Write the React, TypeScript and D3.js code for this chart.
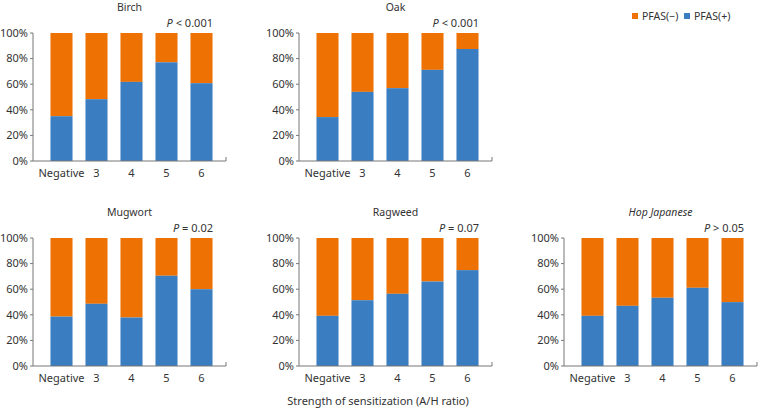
import React, { useEffect, useRef } from "react";
import * as d3 from "d3";

const categories = ["Negative", "3", "4", "5", "6"];
const allergens = ["Birch", "Oak", "Mugwort", "Ragweed", "Hop Japanese"];
const pValues = ["< 0.001", "< 0.001", "= 0.02", "= 0.07", "> 0.05"];
// share of PFAS(+) in each group, percent
const birchPos = [35, 48.3, 61.8, 77.1, 60.8];
const oakPos = [34.3, 54, 56.9, 71.2, 87.5];
const mugwortPos = [38.6, 48.6, 37.9, 70.5, 60];
const ragweedPos = [39.2, 51.4, 56.4, 66, 74.9];
const hopPos = [39.2, 47, 53.3, 61.1, 49.9];
const yTicks = [0, 20, 40, 60, 80, 100];
const legendItems = ["PFAS(\u2212)", "PFAS(+)"];

const ORANGE = "#ee7203";
const BLUE = "#3a7dc1";
const AXIS = "#777";
const TEXT = "#333";

const App = () => {
  const ref = useRef(null);

  useEffect(() => {
    const width = 758, height = 408;
    const plotW = 193, plotH = 128;
    const colX = [33, 299, 564];
    const rowY = [33, 238];
    const font = "'Noto Sans', 'Liberation Sans', sans-serif";

    const svg = d3.select(ref.current);
    svg.selectAll("*").remove();
    svg.attr("width", width).attr("height", height)
      .style("font-family", font);

    const panels = [
      { name: allergens[0], p: pValues[0], vals: birchPos, x: colX[0], y: rowY[0] },
      { name: allergens[1], p: pValues[1], vals: oakPos, x: colX[1], y: rowY[0] },
      { name: allergens[2], p: pValues[2], vals: mugwortPos, x: colX[0], y: rowY[1] },
      { name: allergens[3], p: pValues[3], vals: ragweedPos, x: colX[1], y: rowY[1] },
      { name: allergens[4], p: pValues[4], vals: hopPos, x: colX[2], y: rowY[1], italic: true },
    ];

    panels.forEach((pn) => {
      const g = svg.append("g").attr("transform", `translate(${pn.x},${pn.y})`);
      const x = d3.scaleBand().domain(categories).range([11, 186])
        .paddingInner(0.37).paddingOuter(0.185);
      const y = d3.scaleLinear().domain([0, 100]).range([plotH, 0]);

      // orange (negative) fills the whole column, blue on top of it from the bottom
      g.selectAll(".neg").data(pn.vals).enter().append("rect")
        .attr("x", (d, i) => x(categories[i]))
        .attr("y", y(100))
        .attr("width", x.bandwidth())
        .attr("height", (d) => y(d) - y(100))
        .attr("fill", ORANGE);

      g.selectAll(".pos").data(pn.vals).enter().append("rect")
        .attr("x", (d, i) => x(categories[i]))
        .attr("y", (d) => y(d))
        .attr("width", x.bandwidth())
        .attr("height", (d) => plotH - y(d))
        .attr("fill", BLUE);

      // axes
      g.append("line").attr("x1", 0).attr("x2", 0).attr("y1", y(100)).attr("y2", plotH)
        .attr("stroke", AXIS).attr("stroke-width", 1);
      g.append("line").attr("x1", 0).attr("x2", plotW).attr("y1", plotH).attr("y2", plotH)
        .attr("stroke", AXIS).attr("stroke-width", 1);
      g.append("line").attr("x1", plotW).attr("x2", plotW).attr("y1", plotH - 4).attr("y2", plotH)
        .attr("stroke", AXIS).attr("stroke-width", 1);

      yTicks.forEach((t) => {
        g.append("line").attr("x1", -3).attr("x2", 0).attr("y1", y(t)).attr("y2", y(t))
          .attr("stroke", AXIS);
        g.append("text")
          .attr("x", -5).attr("y", y(t)).attr("dy", "0.35em")
          .attr("text-anchor", "end").attr("font-size", "11px").attr("fill", TEXT)
          .text(`${t}%`);
      });

      categories.forEach((c) => {
        g.append("text")
          .attr("x", x(c) + x.bandwidth() / 2).attr("y", plotH + 16)
          .attr("text-anchor", "middle").attr("font-size", "11px").attr("fill", TEXT)
          .text(c);
      });

      g.append("text")
        .attr("x", plotW / 2).attr("y", -22)
        .attr("text-anchor", "middle").attr("font-size", "10.5px").attr("fill", TEXT)
        .attr("font-style", pn.italic ? "italic" : "normal")
        .text(pn.name);

      const pt = g.append("text")
        .attr("x", 180).attr("y", -6)
        .attr("text-anchor", "end").attr("font-size", "11px").attr("fill", TEXT);
      pt.append("tspan").attr("font-style", "italic").text("P");
      pt.append("tspan").text(` ${pn.p}`);
    });

    svg.append("text")
      .attr("x", 378).attr("y", 405)
      .attr("text-anchor", "middle").attr("font-size", "11px").attr("fill", TEXT)
      .text("Strength of sensitization (A/H ratio)");

    // legend
    const lg = svg.append("g").attr("transform", "translate(632,13)");
    const lx = [0, 52];
    legendItems.forEach((l, i) => {
      lg.append("rect").attr("x", lx[i]).attr("y", 0).attr("width", 6).attr("height", 6)
        .attr("fill", i === 0 ? ORANGE : BLUE);
      lg.append("text").attr("x", lx[i] + 10).attr("y", 3).attr("dy", "0.35em")
        .attr("font-size", "10.5px").attr("fill", TEXT).text(l);
    });
  }, []);

  return (
    <div style={{ position: "absolute", left: 0, top: 0 }}>
      <svg ref={ref} style={{ display: "block" }}></svg>
    </div>
  );
};

export default App;
